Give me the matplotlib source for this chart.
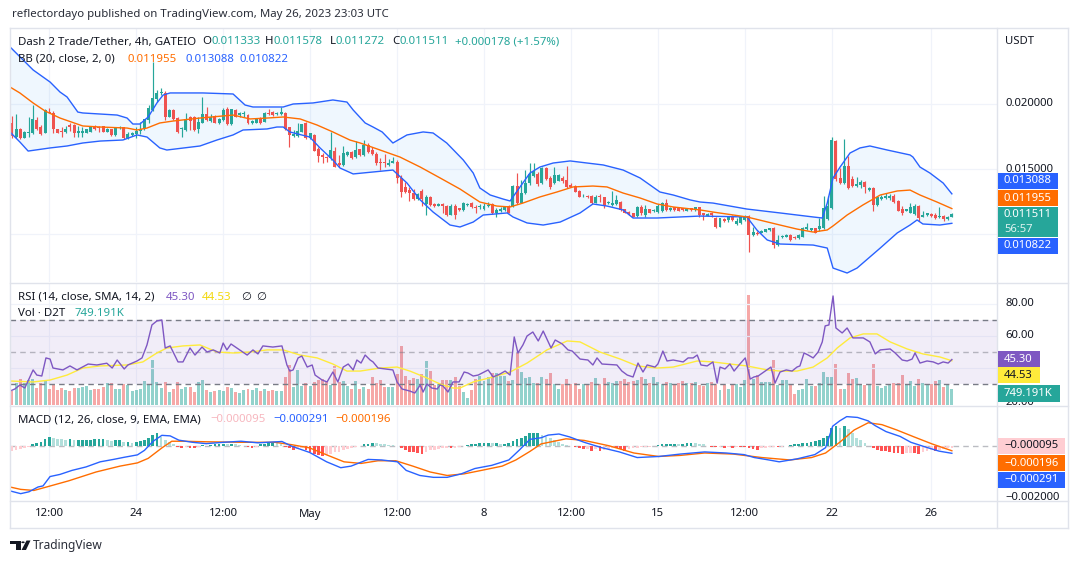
import matplotlib
matplotlib.use("Agg")
import matplotlib.pyplot as plt
from matplotlib.patches import Rectangle, Polygon, Circle
from matplotlib.lines import Line2D
from matplotlib.transforms import blended_transform_factory
import numpy as np

plt.rcParams['font.family'] = ['Noto Sans', 'DejaVu Sans']

# ------------------------------------------------------------------ data
tick_idx = [9, 30, 51, 72, 93, 114, 135, 156, 177, 198, 222]
tick_labels = ['12:00', '24', '12:00', 'May', '12:00', '8', '12:00', '15', '12:00', '22', '26']
price_grid = [0.010, 0.015, 0.020]

open_ = [
    0.01857, 0.01749, 0.01805, 0.01741, 0.01780, 0.01774, 0.01877, 0.01826, 0.01780, 0.01941,
    0.01928, 0.01805, 0.01792, 0.01787, 0.01838, 0.01838, 0.01774, 0.01774, 0.01780, 0.01787,
    0.01831, 0.01826, 0.01831, 0.01787, 0.01805, 0.01762, 0.01813, 0.01820, 0.01741, 0.01762,
    0.01769, 0.01795, 0.01805, 0.01877, 0.01954, 0.02036, 0.02087, 0.02087, 0.01903, 0.01954,
    0.01890, 0.01805, 0.01800, 0.01903, 0.01903, 0.01805, 0.01857, 0.01923, 0.01872, 0.01908,
    0.01857, 0.01877, 0.01959, 0.01846, 0.01954, 0.01915, 0.01920, 0.01915, 0.01851, 0.01857,
    0.01895, 0.01864, 0.01933, 0.01941, 0.01923, 0.01923, 0.01933, 0.01820, 0.01754, 0.01754,
    0.01787, 0.01856, 0.01736, 0.01762, 0.01651, 0.01608, 0.01590, 0.01582, 0.01641, 0.01544,
    0.01531, 0.01608, 0.01633, 0.01590, 0.01651, 0.01608, 0.01685, 0.01646, 0.01615, 0.01556,
    0.01556, 0.01531, 0.01549, 0.01556, 0.01428, 0.01364, 0.01338, 0.01318, 0.01267, 0.01333,
    0.01231, 0.01287, 0.01231, 0.01218, 0.01231, 0.01215, 0.01146, 0.01215, 0.01197, 0.01185,
    0.01223, 0.01236, 0.01210, 0.01205, 0.01190, 0.01215, 0.01231, 0.01159, 0.01180, 0.01185,
    0.01215, 0.01215, 0.01369, 0.01241, 0.01313, 0.01390, 0.01446, 0.01462, 0.01390, 0.01505,
    0.01428, 0.01390, 0.01410, 0.01428, 0.01415, 0.01377, 0.01369, 0.01333, 0.01290, 0.01292,
    0.01292, 0.01241, 0.01292, 0.01282, 0.01236, 0.01223, 0.01231, 0.01249, 0.01190, 0.01172,
    0.01159, 0.01138, 0.01205, 0.01146, 0.01190, 0.01177, 0.01172, 0.01180, 0.01241, 0.01185,
    0.01205, 0.01197, 0.01197, 0.01180, 0.01197, 0.01185, 0.01205, 0.01159, 0.01141, 0.01159,
    0.01121, 0.01056, 0.01113, 0.01108, 0.01138, 0.01077, 0.01087, 0.01108, 0.01138, 0.00992,
    0.01010, 0.01010, 0.01018, 0.01031, 0.01044, 0.00915, 0.00974, 0.00979, 0.00992, 0.00979,
    0.00967, 0.00979, 0.01041, 0.01031, 0.01044, 0.01036, 0.01044, 0.01113, 0.01197, 0.01718,
    0.01428, 0.01390, 0.01523, 0.01421, 0.01369, 0.01377, 0.01403, 0.01338, 0.01351, 0.01223,
    0.01267, 0.01274, 0.01274, 0.01292, 0.01256, 0.01190, 0.01180, 0.01164, 0.01154, 0.01215,
    0.01133, 0.01146, 0.01154, 0.01146, 0.01128, 0.01138, 0.01118, 0.011333]

high_ = [
    0.01908, 0.01923, 0.01813, 0.01792, 0.01903, 0.01992, 0.01897, 0.01838, 0.01959, 0.01967,
    0.01949, 0.01810, 0.01826, 0.01831, 0.01851, 0.01844, 0.01831, 0.01820, 0.01810, 0.01831,
    0.01836, 0.01831, 0.01833, 0.01815, 0.01810, 0.01826, 0.01831, 0.01826, 0.01787, 0.01785,
    0.01826, 0.01864, 0.01887, 0.01992, 0.02323, 0.02108, 0.02120, 0.02103, 0.01959, 0.01959,
    0.01903, 0.01820, 0.01933, 0.01908, 0.01908, 0.01903, 0.02056, 0.01974, 0.01923, 0.01913,
    0.01890, 0.01967, 0.01974, 0.01964, 0.01959, 0.01941, 0.01949, 0.01920, 0.01874, 0.01887,
    0.01900, 0.01938, 0.01959, 0.01946, 0.01938, 0.01974, 0.01941, 0.01826, 0.01800, 0.01856,
    0.01849, 0.01864, 0.01780, 0.01767, 0.01672, 0.01621, 0.01600, 0.01787, 0.01672, 0.01608,
    0.01677, 0.01641, 0.01638, 0.01718, 0.01656, 0.01723, 0.01697, 0.01672, 0.01633, 0.01582,
    0.01615, 0.01574, 0.01595, 0.01569, 0.01454, 0.01403, 0.01359, 0.01344, 0.01318, 0.01344,
    0.01300, 0.01292, 0.01236, 0.01236, 0.01236, 0.01220, 0.01231, 0.01231, 0.01200, 0.01249,
    0.01238, 0.01249, 0.01223, 0.01231, 0.01236, 0.01246, 0.01236, 0.01197, 0.01210, 0.01215,
    0.01220, 0.01377, 0.01467, 0.01415, 0.01492, 0.01544, 0.01544, 0.01480, 0.01518, 0.01518,
    0.01446, 0.01518, 0.01459, 0.01446, 0.01523, 0.01390, 0.01374, 0.01338, 0.01305, 0.01297,
    0.01297, 0.01300, 0.01308, 0.01287, 0.01254, 0.01333, 0.01300, 0.01254, 0.01195, 0.01177,
    0.01164, 0.01215, 0.01223, 0.01223, 0.01195, 0.01190, 0.01231, 0.01249, 0.01267, 0.01210,
    0.01210, 0.01200, 0.01200, 0.01200, 0.01200, 0.01210, 0.01208, 0.01164, 0.01159, 0.01172,
    0.01133, 0.01126, 0.01121, 0.01141, 0.01144, 0.01121, 0.01138, 0.01146, 0.01144, 0.01056,
    0.01023, 0.01031, 0.01041, 0.01049, 0.01056, 0.00992, 0.00990, 0.00997, 0.00997, 0.00985,
    0.00997, 0.01056, 0.01087, 0.01049, 0.01049, 0.01121, 0.01292, 0.01292, 0.01749, 0.01723,
    0.01505, 0.01731, 0.01600, 0.01446, 0.01436, 0.01415, 0.01408, 0.01364, 0.01364, 0.01292,
    0.01300, 0.01318, 0.01308, 0.01308, 0.01262, 0.01215, 0.01195, 0.01236, 0.01231, 0.01223,
    0.01180, 0.01164, 0.01159, 0.01159, 0.01205, 0.01146, 0.01138, 0.011578]

low_ = [
    0.01736, 0.01736, 0.01728, 0.01736, 0.01749, 0.01769, 0.01800, 0.01762, 0.01774, 0.01928,
    0.01774, 0.01774, 0.01749, 0.01780, 0.01795, 0.01749, 0.01749, 0.01749, 0.01774, 0.01785,
    0.01800, 0.01785, 0.01782, 0.01782, 0.01756, 0.01756, 0.01808, 0.01733, 0.01728, 0.01756,
    0.01736, 0.01769, 0.01800, 0.01851, 0.01949, 0.02018, 0.02069, 0.01877, 0.01897, 0.01877,
    0.01774, 0.01749, 0.01795, 0.01800, 0.01795, 0.01774, 0.01851, 0.01872, 0.01864, 0.01851,
    0.01846, 0.01872, 0.01838, 0.01841, 0.01897, 0.01903, 0.01903, 0.01846, 0.01846, 0.01851,
    0.01846, 0.01859, 0.01915, 0.01910, 0.01918, 0.01915, 0.01800, 0.01672, 0.01749, 0.01749,
    0.01782, 0.01733, 0.01731, 0.01636, 0.01556, 0.01549, 0.01556, 0.01569, 0.01513, 0.01518,
    0.01523, 0.01600, 0.01577, 0.01582, 0.01603, 0.01600, 0.01621, 0.01608, 0.01531, 0.01492,
    0.01518, 0.01523, 0.01544, 0.01395, 0.01287, 0.01318, 0.01257, 0.01262, 0.01262, 0.01215,
    0.01146, 0.01215, 0.01210, 0.01213, 0.01159, 0.01141, 0.01144, 0.01118, 0.01180, 0.01180,
    0.01218, 0.01197, 0.01164, 0.01190, 0.01185, 0.01210, 0.01154, 0.01128, 0.01172, 0.01180,
    0.01159, 0.01210, 0.01231, 0.01236, 0.01308, 0.01377, 0.01436, 0.01369, 0.01385, 0.01415,
    0.01344, 0.01385, 0.01405, 0.01395, 0.01351, 0.01359, 0.01321, 0.01282, 0.01287, 0.01277,
    0.01231, 0.01236, 0.01249, 0.01197, 0.01231, 0.01215, 0.01223, 0.01180, 0.01159, 0.01149,
    0.01128, 0.01128, 0.01146, 0.01133, 0.01159, 0.01172, 0.01164, 0.01172, 0.01180, 0.01180,
    0.01180, 0.01177, 0.01180, 0.01177, 0.01180, 0.01180, 0.01133, 0.01108, 0.01136, 0.01133,
    0.01044, 0.01051, 0.01095, 0.01095, 0.01103, 0.01069, 0.01077, 0.01100, 0.00864, 0.00987,
    0.00992, 0.01005, 0.01013, 0.01026, 0.00890, 0.00908, 0.00969, 0.00974, 0.00949, 0.00962,
    0.00962, 0.00974, 0.01031, 0.01026, 0.01005, 0.01026, 0.01036, 0.01108, 0.01190, 0.01410,
    0.01385, 0.01385, 0.01344, 0.01364, 0.01364, 0.01351, 0.01318, 0.01333, 0.01180, 0.01215,
    0.01262, 0.01267, 0.01262, 0.01241, 0.01174, 0.01146, 0.01174, 0.01159, 0.01146, 0.01103,
    0.01128, 0.01138, 0.01133, 0.01113, 0.01121, 0.01103, 0.01108, 0.011272]

close_ = [
    0.01754, 0.01805, 0.01736, 0.01787, 0.01787, 0.01882, 0.01805, 0.01769, 0.01954, 0.01933,
    0.01805, 0.01780, 0.01787, 0.01805, 0.01820, 0.01774, 0.01792, 0.01792, 0.01805, 0.01826,
    0.01805, 0.01818, 0.01787, 0.01810, 0.01762, 0.01820, 0.01826, 0.01736, 0.01769, 0.01780,
    0.01795, 0.01805, 0.01882, 0.01967, 0.02044, 0.02087, 0.02095, 0.01903, 0.01954, 0.01882,
    0.01787, 0.01813, 0.01882, 0.01872, 0.01800, 0.01864, 0.01920, 0.01877, 0.01903, 0.01857,
    0.01882, 0.01954, 0.01846, 0.01959, 0.01903, 0.01928, 0.01928, 0.01851, 0.01869, 0.01882,
    0.01851, 0.01933, 0.01923, 0.01915, 0.01933, 0.01941, 0.01805, 0.01762, 0.01767, 0.01792,
    0.01844, 0.01736, 0.01774, 0.01641, 0.01600, 0.01590, 0.01582, 0.01646, 0.01518, 0.01531,
    0.01621, 0.01633, 0.01582, 0.01646, 0.01608, 0.01685, 0.01633, 0.01615, 0.01544, 0.01549,
    0.01549, 0.01549, 0.01562, 0.01428, 0.01326, 0.01326, 0.01313, 0.01267, 0.01305, 0.01267,
    0.01287, 0.01223, 0.01215, 0.01231, 0.01215, 0.01146, 0.01215, 0.01146, 0.01185, 0.01236,
    0.01233, 0.01205, 0.01197, 0.01215, 0.01215, 0.01223, 0.01159, 0.01185, 0.01190, 0.01210,
    0.01164, 0.01369, 0.01236, 0.01313, 0.01390, 0.01462, 0.01487, 0.01385, 0.01505, 0.01421,
    0.01364, 0.01454, 0.01454, 0.01410, 0.01359, 0.01364, 0.01326, 0.01287, 0.01295, 0.01282,
    0.01236, 0.01287, 0.01282, 0.01215, 0.01249, 0.01236, 0.01262, 0.01185, 0.01164, 0.01154,
    0.01133, 0.01210, 0.01164, 0.01190, 0.01164, 0.01185, 0.01215, 0.01241, 0.01185, 0.01197,
    0.01185, 0.01180, 0.01185, 0.01197, 0.01185, 0.01205, 0.01146, 0.01146, 0.01154, 0.01146,
    0.01051, 0.01121, 0.01103, 0.01128, 0.01108, 0.01103, 0.01128, 0.01138, 0.00992, 0.01018,
    0.01000, 0.01026, 0.01036, 0.01044, 0.00915, 0.00954, 0.00985, 0.00992, 0.00954, 0.00967,
    0.00992, 0.01044, 0.01051, 0.01044, 0.01010, 0.01062, 0.01197, 0.01215, 0.01723, 0.01421,
    0.01390, 0.01523, 0.01351, 0.01369, 0.01385, 0.01403, 0.01364, 0.01356, 0.01223, 0.01282,
    0.01282, 0.01292, 0.01292, 0.01249, 0.01180, 0.01164, 0.01190, 0.01205, 0.01215, 0.01121,
    0.01146, 0.01159, 0.01138, 0.01121, 0.01138, 0.01113, 0.01128, 0.011511]

volume_k = [
    655, 1014, 1217, 1014, 1170, 1217, 811, 1014, 1170, 749,
    936, 702, 780, 702, 655, 811, 780, 858, 905, 702,
    749, 749, 858, 1014, 1014, 749, 749, 967, 936, 655,
    702, 749, 1123, 967, 2106, 1092, 811, 1092, 624, 749,
    1061, 749, 858, 858, 624, 1092, 1170, 702, 624, 655,
    702, 655, 858, 780, 624, 546, 702, 749, 702, 780,
    655, 749, 655, 702, 655, 655, 1326, 1872, 858, 1638,
    905, 1014, 905, 1092, 1170, 1217, 1061, 936, 1841, 1092,
    1123, 905, 749, 1123, 749, 858, 749, 1326, 1014, 1170,
    858, 858, 858, 1435, 2761, 1373, 1170, 1248, 1217, 1435,
    2059, 1591, 936, 967, 1170, 1170, 1170, 1310, 905, 624,
    343, 702, 1217, 1373, 1123, 1326, 1482, 1482, 1373, 1373,
    1123, 1170, 2418, 1529, 1279, 1326, 1045, 1014, 1326, 1217,
    1482, 998, 749, 998, 1217, 967, 1014, 749, 967, 967,
    1061, 1248, 967, 1248, 1092, 1014, 1123, 1123, 1217, 1092,
    1123, 1170, 1310, 1217, 1014, 1310, 1061, 967, 1061, 1014,
    998, 1014, 1123, 1014, 1014, 1061, 936, 905, 1014, 1092,
    967, 702, 936, 749, 936, 967, 858, 1170, 5148, 1217,
    1404, 1061, 1092, 1061, 2106, 936, 1170, 1170, 936, 499,
    702, 749, 1217, 905, 905, 1014, 1529, 1326, 1326, 1919,
    749, 749, 1482, 1217, 1248, 967, 936, 936, 1919, 905,
    811, 905, 967, 1045, 1045, 1404, 967, 1123, 905, 1217,
    1014, 936, 967, 1123, 1170, 858, 967, 749.191]

macd_hist = [
    -0.00019, -0.00015, -0.00013, -0.00010, -0.00006, 0.00004, 0.00008, 0.00013, 0.00023, 0.00032,
    0.00028, 0.00026, 0.00023, 0.00019, 0.00023, 0.00019, 0.00019, 0.00019, 0.00019, 0.00021,
    0.00023, 0.00023, 0.00023, 0.00019, 0.00015, 0.00019, 0.00019, 0.00013, 0.00013, 0.00010,
    0.00013, 0.00015, 0.00019, 0.00028, 0.00039, 0.00045, 0.00032, 0.00019, 0.00013, 0.00006,
    -0.00005, -0.00008, -0.00005, -0.00008, -0.00009, -0.00005, 0.00003, -0.00003, 0.00003, 0.00004,
    0.00006, 0.00006, 0.00004, 0.00006, 0.00004, 0.00003, -0.00003, -0.00006, -0.00008, -0.00004,
    0.00004, 0.00006, 0.00009, 0.00010, 0.00008, 0.00005, -0.00005, -0.00010, -0.00015, -0.00013,
    -0.00008, -0.00015, -0.00023, -0.00032, -0.00036, -0.00039, -0.00036, -0.00032, -0.00026, -0.00026,
    -0.00015, -0.00013, -0.00010, -0.00006, -0.00003, 0.00004, 0.00006, 0.00010, 0.00008, 0.00005,
    0.00004, 0.00003, 0.00001, -0.00003, -0.00010, -0.00018, -0.00023, -0.00026, -0.00028, -0.00032,
    -0.00023, -0.00018, -0.00015, -0.00013, -0.00010, -0.00008, -0.00010, -0.00008, -0.00005, -0.00003,
    0.00003, 0.00004, 0.00006, 0.00008, 0.00008, 0.00009, 0.00008, 0.00008, 0.00006, 0.00006,
    0.00010, 0.00015, 0.00023, 0.00027, 0.00037, 0.00046, 0.00046, 0.00046, 0.00040, 0.00033,
    0.00027, 0.00020, 0.00013, 0.00007, 0.00003, -0.00003, -0.00007, -0.00011, -0.00013, -0.00013,
    -0.00019, -0.00013, -0.00019, -0.00016, -0.00013, -0.00008, -0.00011, -0.00013, -0.00019, -0.00013,
    -0.00011, -0.00008, -0.00007, -0.00005, -0.00004, -0.00003, 0.00003, 0.00005, 0.00007, 0.00007,
    0.00007, 0.00005, 0.00007, 0.00008, 0.00011, 0.00008, 0.00005, 0.00004, -0.00003, -0.00004,
    -0.00007, -0.00004, -0.00008, -0.00005, -0.00008, -0.00004, -0.00005, -0.00007, -0.00011, -0.00013,
    -0.00016, -0.00011, -0.00008, -0.00007, -0.00004, -0.00007, -0.00004, -0.00003, 0.00003, 0.00004,
    0.00005, 0.00008, 0.00011, 0.00013, 0.00016, 0.00021, 0.00027, 0.00037, 0.00066, 0.00073,
    0.00064, 0.00073, 0.00060, 0.00046, 0.00029, 0.00020, 0.00011, -0.00003, -0.00011, -0.00016,
    -0.00019, -0.00021, -0.00024, -0.00027, -0.00029, -0.00032, -0.00029, -0.00027, -0.00029, -0.00033,
    -0.00024, -0.00019, -0.00016, -0.00019, -0.00016, -0.00013, -0.00011, -0.000095]

# Bollinger bands, read as (bar position, value) points
bb_upper = [(-0.5, 0.02440), (5.1, 0.02262), (9.2, 0.02169), (11.6, 0.02092), (13.3, 0.02054),
            (15.9, 0.01938), (17.1, 0.01931), (25.4, 0.01915), (27.8, 0.01892), (29.2, 0.01846),
            (30.9, 0.01846), (32.9, 0.01900), (35.0, 0.02008), (36.5, 0.02069), (38.2, 0.02085),
            (46.1, 0.02085), (53.4, 0.02077), (56.3, 0.01992), (58.2, 0.01977), (65.5, 0.01977),
            (67.9, 0.02000), (72.7, 0.02008), (77.5, 0.02031), (80.9, 0.02015), (82.4, 0.01954),
            (85.3, 0.01854), (87.2, 0.01823), (89.4, 0.01785), (92.0, 0.01700), (95.4, 0.01762),
            (99.3, 0.01785), (101.7, 0.01777), (105.0, 0.01700), (109.0, 0.01569), (111.4, 0.01469),
            (113.0, 0.01354), (115.5, 0.01300), (118.6, 0.01269), (120.3, 0.01254), (122.7, 0.01362),
            (125.1, 0.01469), (127.5, 0.01515), (130.7, 0.01546), (134.8, 0.01562), (138.9, 0.01546),
            (142.8, 0.01531), (147.6, 0.01492), (151.7, 0.01431), (156.5, 0.01323), (159.7, 0.01300),
            (163.8, 0.01262), (166.2, 0.01246), (169.3, 0.01238), (177.5, 0.01192), (185.5, 0.01162),
            (193.5, 0.01131), (195.7, 0.01123), (196.9, 0.01238), (198.3, 0.01431), (200.0, 0.01515),
            (202.4, 0.01623), (204.8, 0.01662), (207.2, 0.01677), (211.4, 0.01646), (216.9, 0.01608),
            (217.6, 0.01592), (219.3, 0.01515), (221.7, 0.01469), (224.9, 0.01392), (227.0, 0.013088)]

bb_basis = [(-0.5, 0.02131), (1.9, 0.02085), (5.1, 0.02008), (8.0, 0.01946), (11.6, 0.01892),
            (17.1, 0.01831), (21.3, 0.01823), (27.8, 0.01815), (30.2, 0.01800), (32.6, 0.01815),
            (35.7, 0.01854), (38.9, 0.01869), (45.4, 0.01892), (53.4, 0.01915), (57.5, 0.01885),
            (61.6, 0.01892), (65.5, 0.01900), (69.6, 0.01885), (73.7, 0.01838), (77.5, 0.01785),
            (81.6, 0.01723), (84.1, 0.01700), (88.9, 0.01646), (93.7, 0.01592), (98.6, 0.01515),
            (103.4, 0.01431), (108.2, 0.01346), (113.0, 0.01246), (117.1, 0.01215), (120.3, 0.01208),
            (123.4, 0.01238), (127.5, 0.01285), (131.6, 0.01323), (135.5, 0.01362), (140.3, 0.01369),
            (143.7, 0.01362), (147.6, 0.01315), (151.7, 0.01277), (155.8, 0.01231), (159.7, 0.01208),
            (166.2, 0.01185), (169.3, 0.01169), (177.5, 0.01131), (185.5, 0.01069), (189.6, 0.01038),
            (193.5, 0.01015), (196.9, 0.01031), (198.3, 0.01062), (201.7, 0.01146), (205.5, 0.01223),
            (209.7, 0.01300), (213.8, 0.01331), (216.9, 0.01338), (219.3, 0.01300), (223.4, 0.01246),
            (227.0, 0.011955)]

bb_lower = [(-0.5, 0.01785), (1.9, 0.01708), (3.9, 0.01638), (9.2, 0.01662), (13.3, 0.01677),
            (17.1, 0.01700), (21.3, 0.01715), (26.8, 0.01723), (30.2, 0.01762), (32.6, 0.01746),
            (35.7, 0.01662), (37.4, 0.01646), (45.4, 0.01677), (49.5, 0.01723), (53.4, 0.01762),
            (55.8, 0.01800), (61.6, 0.01808), (64.0, 0.01823), (65.5, 0.01823), (67.1, 0.01785),
            (71.9, 0.01746), (74.4, 0.01662), (77.5, 0.01569), (79.2, 0.01508), (82.4, 0.01462),
            (87.2, 0.01477), (92.0, 0.01492), (95.4, 0.01392), (98.6, 0.01262), (101.7, 0.01169),
            (105.8, 0.01069), (108.2, 0.01054), (111.4, 0.01092), (113.8, 0.01146), (119.6, 0.01162),
            (121.0, 0.01131), (124.4, 0.01085), (128.3, 0.01069), (132.4, 0.01092), (137.2, 0.01162),
            (140.3, 0.01231), (143.7, 0.01215), (147.6, 0.01185), (150.0, 0.01123), (155.8, 0.01123),
            (166.2, 0.01138), (177.5, 0.01131), (179.9, 0.01031), (182.4, 0.00954), (185.5, 0.00923),
            (193.5, 0.00915), (196.9, 0.00892), (198.3, 0.00738), (201.7, 0.00700), (204.1, 0.00738),
            (209.7, 0.00892), (213.8, 0.01008), (216.9, 0.01069), (218.6, 0.01108), (220.0, 0.01077),
            (224.1, 0.01069), (227.0, 0.010822)]

rsi_pts = [(-0.5, 25.6), (0.7, 26.9), (1.9, 29.4), (3.1, 27.5), (5.1, 38.8), (6.0, 35.6), (7.2, 35.0),
           (8.2, 46.3), (9.2, 45.6), (9.9, 40.0), (12.3, 38.8), (14.0, 41.3), (15.7, 38.8), (18.4, 42.5),
           (20.5, 41.9), (22.9, 43.0), (24.2, 40.0), (25.4, 45.0), (27.1, 39.4), (28.0, 41.9), (30.2, 44.4),
           (31.4, 46.3), (32.6, 54.4), (33.8, 66.9), (35.0, 69.4), (36.2, 70.0), (37.0, 52.5), (38.2, 53.8),
           (40.1, 43.8), (41.3, 43.8), (43.0, 52.5), (44.2, 48.1), (45.9, 53.1), (47.1, 50.0), (48.6, 51.3),
           (50.2, 49.4), (51.0, 55.6), (51.9, 51.3), (52.9, 55.0), (54.3, 52.5), (56.8, 48.1), (58.2, 51.3),
           (59.4, 48.8), (60.6, 53.8), (63.0, 53.1), (65.2, 53.8), (66.4, 41.9), (67.1, 38.1), (67.9, 38.8),
           (69.1, 46.3), (70.0, 47.5), (71.3, 40.6), (72.5, 41.9), (73.2, 35.6), (74.9, 32.5), (76.1, 31.3),
           (77.5, 37.5), (78.7, 31.3), (80.0, 40.6), (81.2, 42.5), (82.4, 38.8), (83.3, 45.0), (84.3, 43.1),
           (85.3, 48.1), (86.5, 45.0), (87.2, 43.8), (88.4, 40.0), (92.0, 38.8), (93.0, 31.3), (94.2, 26.9),
           (96.1, 25.6), (97.3, 24.4), (98.6, 29.4), (99.3, 25.0), (100.2, 30.0), (101.4, 27.5), (102.7, 26.9),
           (103.4, 29.4), (104.1, 28.8), (105.3, 25.0), (106.5, 31.3), (108.0, 31.3), (109.2, 37.5),
           (110.1, 36.9), (111.4, 35.0), (112.6, 35.6), (115.0, 38.8), (116.2, 34.4), (117.9, 36.3),
           (119.1, 38.1), (120.3, 35.6), (121.3, 59.4), (122.2, 49.4), (123.4, 54.4), (124.4, 60.0),
           (125.8, 62.5), (127.1, 56.9), (128.3, 63.1), (130.2, 52.5), (131.2, 57.5), (132.9, 55.0),
           (134.3, 51.3), (135.3, 50.6), (137.2, 45.6), (139.1, 45.0), (140.3, 41.9), (141.3, 46.3),
           (142.5, 42.5), (146.1, 41.9), (147.3, 38.1), (148.6, 35.6), (150.0, 34.4), (151.2, 43.1),
           (152.4, 37.5), (153.4, 41.9), (155.3, 40.6), (156.0, 42.5), (157.2, 50.6), (158.2, 44.4),
           (159.7, 45.0), (162.1, 43.8), (163.3, 46.3), (164.5, 46.3), (165.5, 48.1), (166.4, 41.9),
           (167.9, 41.3), (169.3, 43.8), (170.3, 30.6), (171.0, 40.6), (172.2, 39.4), (173.4, 42.5),
           (174.4, 38.1), (175.8, 42.5), (177.1, 46.3), (178.3, 33.1), (179.2, 34.4), (180.2, 35.0),
           (181.9, 38.1), (183.3, 40.6), (184.3, 30.6), (185.5, 37.5), (187.0, 38.8), (188.4, 38.1),
           (189.6, 40.6), (190.3, 41.3), (191.3, 49.4), (192.3, 48.1), (193.5, 46.3), (194.7, 50.0),
           (195.7, 56.3), (196.4, 66.3), (197.3, 66.9), (198.3, 85.0), (199.0, 65.0), (200.5, 61.9),
           (201.7, 65.0), (203.1, 58.8), (205.6, 58.8), (207.2, 56.3), (208.5, 48.8), (209.7, 51.3),
           (212.1, 51.9), (213.3, 49.4), (215.0, 45.0), (216.2, 44.4), (217.4, 45.6), (218.1, 49.4),
           (219.3, 43.1), (221.0, 44.4), (222.5, 43.8), (223.7, 42.5), (224.9, 43.8), (226.1, 43.1),
           (227.0, 45.30)]

rsi_ma_pts = [(-0.5, 31.9), (5.1, 31.3), (9.2, 32.5), (13.3, 35.6), (17.1, 40.0), (21.3, 41.3),
              (27.8, 41.9), (31.6, 43.8), (35.0, 49.4), (37.4, 52.5), (41.3, 53.8), (45.4, 54.4),
              (49.5, 50.0), (53.4, 49.4), (57.5, 50.0), (61.6, 51.3), (65.5, 51.3), (69.6, 48.1),
              (73.7, 46.3), (77.5, 42.5), (80.9, 38.1), (84.1, 38.1), (88.9, 40.0), (93.0, 40.6),
              (96.1, 38.1), (100.2, 33.8), (103.4, 30.0), (106.5, 27.5), (108.2, 27.5), (111.4, 31.3),
              (116.2, 34.4), (120.3, 37.5), (124.4, 43.1), (129.2, 51.3), (134.1, 56.9), (137.2, 56.3),
              (142.0, 50.0), (146.9, 45.6), (151.0, 41.3), (155.8, 40.0), (159.7, 40.6), (165.5, 44.4),
              (169.3, 43.8), (173.4, 42.5), (177.5, 41.3), (182.4, 38.8), (185.5, 38.1), (189.6, 38.1),
              (193.5, 40.6), (196.9, 46.3), (199.3, 52.5), (202.4, 58.8), (205.6, 61.3), (208.9, 61.3),
              (212.1, 56.3), (216.2, 51.9), (220.0, 48.8), (224.1, 46.9), (227.0, 44.53)]

macd_pts = [(-0.4, -0.00170), (2.1, -0.00180), (4.1, -0.00173), (6.3, -0.00155), (7.5, -0.00151),
            (9.2, -0.00116), (11.6, -0.00108), (14.5, -0.00093), (17.9, -0.00080), (21.3, -0.00061),
            (24.5, -0.00052), (27.1, -0.00044), (30.3, -0.00035), (32.0, -0.00018), (34.1, 0.00016),
            (36.2, 0.00038), (38.2, 0.00036), (40.3, 0.00020), (43.6, 0.00012), (46.9, 0.00007),
            (51.1, 0.00012), (55.3, 0.00016), (59.4, 0.00010), (65.2, 0.00015), (67.6, -0.00003),
            (71.9, -0.00026), (76.0, -0.00061), (79.4, -0.00083), (81.9, -0.00077), (86.0, -0.00052),
            (89.3, -0.00054), (93.1, -0.00061), (95.2, -0.00093), (98.5, -0.00112), (101.8, -0.00119),
            (105.1, -0.00119), (108.5, -0.00106), (111.8, -0.00086), (115.9, -0.00074), (120.0, -0.00054),
            (122.6, -0.00016), (125.1, 0.00023), (127.8, 0.00029), (129.5, 0.00039), (132.1, 0.00043),
            (134.7, 0.00032), (138.2, 0.00012), (142.4, -0.00008), (146.7, -0.00024), (151.0, -0.00045),
            (156.2, -0.00041), (161.4, -0.00032), (167.3, -0.00024), (172.5, -0.00028), (176.8, -0.00034),
            (179.3, -0.00045), (182.8, -0.00054), (185.3, -0.00061), (189.6, -0.00050), (193.9, -0.00034),
            (196.5, -0.00008), (198.2, 0.00072), (199.9, 0.00092), (201.6, 0.00108), (204.2, 0.00105),
            (206.8, 0.00092), (208.5, 0.00074), (211.1, 0.00052), (214.5, 0.00034), (217.1, 0.00012),
            (220.5, -0.00005), (223.9, -0.00021), (227.0, -0.000291)]

signal_pts = [(-0.5, -0.00155), (2.1, -0.00164), (5.3, -0.00168), (7.9, -0.00157), (13.7, -0.00132),
              (20.3, -0.00099), (26.1, -0.00077), (30.3, -0.00065), (32.9, -0.00048), (36.2, -0.00009),
              (38.6, 0.00016), (41.1, 0.00016), (46.9, 0.00014), (55.3, 0.00012), (63.5, 0.00012),
              (67.6, 0.00003), (71.9, -0.00009), (76.0, -0.00035), (80.2, -0.00061), (84.3, -0.00067),
              (88.4, -0.00057), (92.7, -0.00057), (96.8, -0.00077), (101.0, -0.00099), (105.1, -0.00112),
              (109.2, -0.00106), (113.4, -0.00093), (118.4, -0.00077), (121.7, -0.00054), (125.1, -0.00022),
              (127.8, 0.00006), (133.8, 0.00025), (138.2, 0.00019), (144.2, -0.00001), (150.2, -0.00028),
              (156.2, -0.00041), (161.4, -0.00037), (167.3, -0.00028), (174.2, -0.00032), (181.1, -0.00045),
              (187.9, -0.00054), (193.1, -0.00045), (196.5, -0.00028), (199.9, 0.00012), (203.4, 0.00058),
              (206.8, 0.00085), (210.1, 0.00078), (213.7, 0.00058), (217.9, 0.00032), (222.2, 0.00006),
              (227.0, -0.000196)]

# ------------------------------------------------------------------ style
UP, DN = '#26A69A', '#EF5350'
BLUE, ORANGE, PURPLE, YELLOW = '#2962FF', '#FF6D00', '#7E57C2', '#FFEB3B'
GRID, FRAME, TXT = '#F0F3FA', '#E0E3EB', '#131722'

W, H = 1079, 563
XL = (-0.48, 237.9)
fig = plt.figure(figsize=(W / 100, H / 100), dpi=100)
fig.patch.set_facecolor('white')
renderer = fig.canvas.get_renderer()


def fx(x):
    return x / W


def fy(y):
    return 1 - y / H


def axes_px(x0, y0, x1, y1):
    ax = fig.add_axes([fx(x0), fy(y1), (x1 - x0) / W, (y1 - y0) / H])
    for s in ax.spines.values():
        s.set_visible(False)
    ax.set_xticks([])
    ax.set_yticks([])
    ax.set_xlim(XL)
    return ax


def fitsize(s, width, weight='normal'):
    t = fig.text(0, 0, s, fontsize=10, fontweight=weight)
    w = t.get_window_extent(renderer).width
    t.remove()
    return 10 * width / w


def ftext(x, y, s, color=TXT, size=8, weight='normal', ha='left', z=3):
    return fig.text(fx(x), fy(y), s, color=color, fontsize=size, fontweight=weight,
                    ha=ha, va='center', zorder=z)


def seq(x, y, parts, size):
    for s, color, gap in parts:
        t = ftext(x, y, s, color, size)
        x += t.get_window_extent(renderer).width + gap


def fline(xs, ys, color=FRAME, lw=1.0):
    fig.add_artist(Line2D([fx(v) for v in xs], [fy(v) for v in ys], color=color, lw=lw,
                          transform=fig.transFigure, zorder=2))


def pts(p):
    a = np.array(p)
    return a[:, 0], a[:, 1]


o, h, l, c = map(np.array, (open_, high_, low_, close_))
idx = np.arange(len(c))
up = c >= o
ccol = np.where(up, UP, DN)

# ------------------------------------------------------------------ price pane
ax_p = axes_px(10, 28, 997, 282)
ax_p.set_ylim(0.006308, 0.025846)
for t in tick_idx:
    ax_p.axvline(t, color=GRID, lw=0.9, zorder=0)
for v in price_grid:
    ax_p.axhline(v, color=GRID, lw=0.9, zorder=0)

ux, uy = pts(bb_upper)
mx, my = pts(bb_basis)
lx, ly = pts(bb_lower)
ax_p.fill(np.r_[ux, lx[::-1]], np.r_[uy, ly[::-1]], color='#2196F3', alpha=0.07, lw=0, zorder=1)
ax_p.vlines(idx, l, h, colors=ccol, lw=0.85, zorder=3)
ax_p.bar(idx, np.maximum(np.abs(c - o), 0.00003), bottom=np.minimum(o, c), width=0.72,
         color=ccol, lw=0, zorder=4)
ax_p.plot(ux, uy, color=BLUE, lw=1.0, zorder=5)
ax_p.plot(lx, ly, color=BLUE, lw=1.0, zorder=5)
ax_p.plot(mx, my, color=ORANGE, lw=1.0, zorder=5)

# ------------------------------------------------------------------ RSI + volume pane
ax_v = axes_px(10, 283, 997, 405)
ax_v.set_ylim(0, 122 * 46.8e3)
ax_r = axes_px(10, 283, 997, 405)
ax_r.patch.set_alpha(0)
ax_r.set_ylim(16.9, 93.1)
for t in tick_idx:
    ax_v.axvline(t, color=GRID, lw=0.9, zorder=0)
for v in (40, 60, 80):
    ax_r.axhline(v, color=GRID, lw=0.9, zorder=0)
ax_r.axhspan(30, 70, color=PURPLE, alpha=0.1, lw=0, zorder=0)
vcol = np.where(up, UP, DN)
ax_v.bar(idx, np.array(volume_k) * 1000, width=0.72, color=vcol, alpha=0.5, lw=0, zorder=2)
ax_r.axhline(70, color='#787B86', lw=1.0, ls=(0, (4, 3)), zorder=1)
ax_r.axhline(30, color='#787B86', lw=1.0, ls=(0, (4, 3)), zorder=1)
ax_r.axhline(50, color='#787B86', lw=1.0, ls=(0, (4, 3)), alpha=0.5, zorder=1)
rx, ry = pts(rsi_pts)
sx, sy = pts(rsi_ma_pts)
ax_r.plot(sx, sy, color=YELLOW, lw=1.0, zorder=3)
ax_r.plot(rx, ry, color=PURPLE, lw=1.0, zorder=4)

# ------------------------------------------------------------------ MACD pane
ax_m = axes_px(10, 406, 997, 500)
ax_m.set_ylim(-0.002037, 0.001477)
for t in tick_idx:
    ax_m.axvline(t, color=GRID, lw=0.9, zorder=0)
hist = np.array(macd_hist)
prev = np.r_[hist[0], hist[:-1]]
hcol = np.where(hist >= 0, np.where(hist >= prev, '#26A69A', '#B2DFDB'),
                np.where(hist >= prev, '#FFCDD2', '#FF5252'))
ax_m.axhline(0, color='#787B86', lw=1.0, ls=(0, (4, 3)), alpha=0.5, zorder=1)
ax_m.bar(idx, hist, width=0.66, color=hcol, lw=0, zorder=2)
bx, by = pts(macd_pts)
gx, gy = pts(signal_pts)
ax_m.plot(bx, by, color=BLUE, lw=1.0, zorder=4)
ax_m.plot(gx, gy, color=ORANGE, lw=1.0, zorder=3)

# ------------------------------------------------------------------ frame lines
fline([10, 1068], [27.5, 27.5])
fline([10, 1068], [527.5, 527.5])
fline([9.5, 9.5], [27.5, 527.5])
fline([1068, 1068], [27.5, 527.5])
fline([997, 997], [27.5, 527.5])
fline([10, 1068], [282.5, 282.5])
fline([10, 1068], [405.5, 405.5])
fline([10, 1068], [500.5, 500.5])

# ------------------------------------------------------------------ texts
TITLE = fitsize('reflectordayo published on TradingView.com, May 26, 2023 23:03 UTC', 375)
LEG = fitsize('Dash 2 Trade/Tether, 4h, GATEIO', 177)
AXF = fitsize('0.020000', 48)
BOXF = fitsize('0.013088', 48, 'bold')

ftext(11.5, 15, 'reflectordayo published on TradingView.com, May 26, 2023 23:03 UTC', '#2A2E39', TITLE)

ftext(18, 42, 'Dash 2 Trade/Tether, 4h, GATEIO', TXT, LEG)
seq(202, 42, [('O', TXT, 0), (f'{o[-1]:.6f}', UP, 0)], LEG)
seq(265, 42, [('H', TXT, 0), (f'{h[-1]:.6f}', UP, 0)], LEG)
seq(330, 42, [('L', TXT, 0), (f'{l[-1]:.6f}', UP, 0)], LEG)
seq(392, 42, [('C', TXT, 0), (f'{c[-1]:.6f}', UP, 0)], LEG)
chg = c[-1] - o[-1]
ftext(455, 42, f'+{chg:.6f} (+{chg / o[-1] * 100:.2f}%)', UP, LEG)

ftext(18, 59, 'BB (20, close, 2, 0)', TXT, LEG)
ftext(128, 59, f'{my[-1]:.6f}', ORANGE, LEG)
ftext(185, 59, f'{uy[-1]:.6f}', BLUE, LEG)
ftext(240, 59, f'{ly[-1]:.6f}', BLUE, LEG)

ftext(18, 297, 'RSI (14, close, SMA, 14, 2)', TXT, LEG)
ftext(166, 297, f'{ry[-1]:.2f}', PURPLE, LEG)
ftext(202, 297, f'{sy[-1]:.2f}', '#F2D80E', LEG)
ftext(241, 297, '\u2205', TXT, LEG)
ftext(256, 297, '\u2205', TXT, LEG)
ftext(18, 314, 'Vol \u00b7 D2T', TXT, LEG)
ftext(74, 314, f'{volume_k[-1]:.3f}K', UP, LEG)

ftext(18, 420, 'MACD (12, 26, close, 9, EMA, EMA)', TXT, LEG)
ftext(210.5, 420, f'\u2212{abs(hist[-1]):.6f}', '#F7B7BF', LEG)
ftext(273.5, 420, f'\u2212{abs(by[-1]):.6f}', BLUE, LEG)
ftext(335, 420, f'\u2212{abs(gy[-1]):.6f}', ORANGE, LEG)

# right axis tick labels (positioned through the pane scales)
tp = blended_transform_factory(fig.transFigure, ax_p.transData)
tr = blended_transform_factory(fig.transFigure, ax_r.transData)
tm = blended_transform_factory(fig.transFigure, ax_m.transData)
ftext(1005, 41.5, 'USDT', TXT, AXF)
for v in price_grid[1:]:
    fig.text(fx(1005), v, f'{v:.6f}', transform=tp, color=TXT, fontsize=AXF, va='center', zorder=3)
for v in (80, 60):
    fig.text(fx(1005), v, f'{v:.2f}', transform=tr, color=TXT, fontsize=AXF, va='center', zorder=3)
t20 = fig.text(fx(1005), 18.5, '20.00', transform=tr, color=TXT, fontsize=AXF, va='center', zorder=3)
t20.set_clip_path(Rectangle((fx(997), fy(405)), 71 / W, 122 / H, transform=fig.transFigure))
t02 = fig.text(fx(1005), -0.00193, '\u22120.002000', transform=tm, color=TXT, fontsize=AXF,
               va='center', zorder=3)
t02.set_clip_path(Rectangle((fx(997), fy(500)), 71 / W, 95 / H, transform=fig.transFigure))


def box(y0, y1, text, bg, fg, x1=1058, ytext=None, weight='bold'):
    fig.add_artist(Rectangle((fx(997.5), fy(y1)), (x1 - 997.5) / W, (y1 - y0) / H,
                             transform=fig.transFigure, facecolor=bg, edgecolor='none', zorder=5))
    ftext(1004, (y0 + y1) / 2 if ytext is None else ytext, text, fg, BOXF, weight, z=6)


box(173, 188.5, f'{uy[-1]:.6f}', BLUE, 'white')
box(190, 206, f'{my[-1]:.6f}', ORANGE, 'white')
box(207, 237, f'{c[-1]:.6f}', UP, 'white', ytext=215)
ftext(1004, 229, '56:57', '#DDF3F0', BOXF, 'normal', z=6)
box(238, 254, f'{ly[-1]:.6f}', BLUE, 'white')
box(351, 367, f'{ry[-1]:.2f}', PURPLE, 'white', x1=1040)
box(367, 383, f'{sy[-1]:.2f}', YELLOW, TXT, x1=1040, weight='normal')
box(385, 402, f'{volume_k[-1]:.3f}K', UP, 'white', x1=1060)
box(438, 454, f'\u2212{abs(hist[-1]):.6f}', '#FFCDD2', TXT, x1=1065, weight='normal')
box(455, 471, f'\u2212{abs(gy[-1]):.6f}', ORANGE, 'white', x1=1065, weight='normal')
box(472, 488, f'\u2212{abs(by[-1]):.6f}', BLUE, 'white', x1=1065, weight='normal')

# x axis labels
tx = blended_transform_factory(ax_m.transData, fig.transFigure)
for t, s in zip(tick_idx, tick_labels):
    fig.text(t, fy(514), s, transform=tx, color=TXT, fontsize=AXF, ha='center', va='center')

# TradingView logo
LOGO = '#131722'
fig.add_artist(Polygon([(fx(10), fy(540.5)), (fx(20.5), fy(540.5)), (fx(20.5), fy(550)),
                        (fx(16), fy(550)), (fx(16), fy(544)), (fx(10), fy(544))],
                       closed=True, transform=fig.transFigure, color=LOGO, lw=0))
fig.add_artist(Circle((fx(23), fy(542.3)), 1.7 / W, transform=fig.transFigure, color=LOGO, lw=0))
fig.add_artist(Polygon([(fx(21.5), fy(550)), (fx(26), fy(550)), (fx(30.5), fy(540.5)),
                        (fx(26.5), fy(540.5))], closed=True, transform=fig.transFigure, color=LOGO, lw=0))
ftext(33, 545.5, 'TradingView', '#2A2E39', fitsize('TradingView', 70))

fig.savefig('out.png', dpi=100, facecolor='white')
